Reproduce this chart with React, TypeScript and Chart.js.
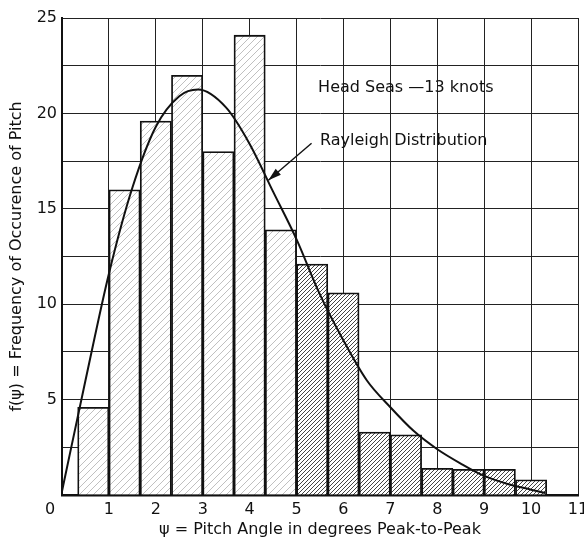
import React, { useEffect, useRef } from "react";
import { Chart, registerables } from "chart.js";

Chart.register(...registerables);

// Histogram bins (centre of each 2/3-degree class interval)
const binCenters = [0.6667, 1.3333, 2.0, 2.6667, 3.3333, 4.0, 4.6667, 5.3333, 6.0, 6.6667, 7.3333, 8.0, 8.6667, 9.3333, 10.0];
const frequencies = [4.6, 16.0, 19.6, 22.0, 18.0, 24.1, 13.9, 12.1, 10.6, 3.3, 3.15, 1.4, 1.35, 1.35, 0.8];

// Rayleigh distribution curve
const curveX = [0, 0.5, 1, 1.5, 2, 2.5, 2.9, 3.5, 4, 4.5, 5, 5.5, 6, 6.5, 7, 7.5, 8, 8.5, 9, 9.5, 10, 10.3];
const curveY = [0.2, 6.0, 11.6, 16.1, 19.3, 20.9, 21.25, 20.3, 18.4, 15.9, 13.4, 10.5, 8.1, 6.0, 4.6, 3.35, 2.4, 1.65, 1.0, 0.58, 0.28, 0.1];

const xTicks = [0, 1, 2, 3, 4, 5, 6, 7, 8, 9, 10, 11];
const yTickLabels = [5, 10, 15, 20, 25];

const headText = "Head Seas —13 knots";
const curveText = "Rayleigh Distribution";
const xTitle = "ψ = Pitch Angle in degrees Peak-to-Peak";
const yTitle = "f(ψ) = Frequency of Occurence of Pitch";

const FONT = "'DejaVu Sans', sans-serif";

function makeHatch(spacing: number, color: string, lw: number) {
  const c = document.createElement("canvas");
  c.width = spacing;
  c.height = spacing;
  const g = c.getContext("2d")!;
  g.fillStyle = "#fff";
  g.fillRect(0, 0, spacing, spacing);
  g.strokeStyle = color;
  g.lineWidth = lw;
  g.beginPath();
  g.moveTo(0, spacing);
  g.lineTo(spacing, 0);
  g.moveTo(-spacing / 2, spacing / 2);
  g.lineTo(spacing / 2, -spacing / 2);
  g.moveTo(spacing / 2, spacing * 1.5);
  g.lineTo(spacing * 1.5, spacing / 2);
  g.stroke();
  return g.createPattern(c, "repeat");
}

export default function App() {
  const ref = useRef<HTMLCanvasElement>(null);

  useEffect(() => {
    const canvas = ref.current!;
    const sparse = makeHatch(7, "#c0c0c0", 1);
    const dense = makeHatch(4, "#444", 1);

    const annotations = {
      id: "annotations",
      afterDraw(chart: any) {
        const { ctx, scales } = chart;
        const xs = scales.x;
        const ys = scales.y;
        ctx.save();
        ctx.fillStyle = "#111";
        ctx.font = `16px ${FONT}`;
        ctx.textBaseline = "alphabetic";
        ctx.textAlign = "left";
        ctx.fillText(headText, xs.getPixelForValue(5.46), ys.getPixelForValue(21.1));
        ctx.fillText(curveText, xs.getPixelForValue(5.5), ys.getPixelForValue(18.35));
        // x label "0" sits left of the y axis
        ctx.textAlign = "center";
        ctx.textBaseline = "middle";
        ctx.fillText(String(xTicks[0]), xs.getPixelForValue(0) - 12, chart.chartArea.bottom + 5 + 9.6);
        // arrow
        const x1 = xs.getPixelForValue(5.32), y1 = ys.getPixelForValue(18.44);
        const x2 = xs.getPixelForValue(4.4), y2 = ys.getPixelForValue(16.5);
        ctx.strokeStyle = "#111";
        ctx.lineWidth = 1.4;
        ctx.beginPath();
        ctx.moveTo(x1, y1);
        ctx.lineTo(x2, y2);
        ctx.stroke();
        const ang = Math.atan2(y2 - y1, x2 - x1);
        const L = 13, W = 4;
        ctx.beginPath();
        ctx.moveTo(x2, y2);
        ctx.lineTo(x2 - L * Math.cos(ang) + W * Math.sin(ang), y2 - L * Math.sin(ang) - W * Math.cos(ang));
        ctx.lineTo(x2 - L * Math.cos(ang) - W * Math.sin(ang), y2 - L * Math.sin(ang) + W * Math.cos(ang));
        ctx.closePath();
        ctx.fill();
        ctx.restore();
      },
    };

    const chart = new Chart(canvas, {
      type: "bar",
      data: {
        datasets: [
          {
            type: "line",
            data: curveX.map((x, i) => ({ x, y: curveY[i] })),
            borderColor: "#111",
            borderWidth: 2,
            pointRadius: 0,
            cubicInterpolationMode: "monotone",
            fill: false,
            order: 0,
          } as any,
          {
            type: "bar",
            data: binCenters.map((x, i) => ({ x, y: frequencies[i] })),
            backgroundColor: (c: any) => (c.dataIndex < 7 ? sparse : dense),
            borderColor: "#111",
            borderWidth: 1.8,
            barPercentage: 1,
            categoryPercentage: 1,
            order: 1,
          } as any,
        ],
      },
      options: {
        animation: false,
        responsive: false,
        events: [],
        layout: { padding: { left: 0, right: 6, top: 18, bottom: 0 } },
        plugins: { legend: { display: false }, tooltip: { enabled: false } },
        scales: {
          x: {
            type: "linear",
            min: 0,
            max: 11,
            offset: false,
            afterBuildTicks: (s: any) => {
              s.ticks = xTicks.map((v) => ({ value: v }));
            },
            ticks: {
              autoSkip: false,
              maxRotation: 0,
              padding: 5,
              color: "#111",
              font: { family: FONT, size: 16 },
              callback: (v: any) => (v === 0 ? "" : String(v)),
            },
            grid: { color: "#222", lineWidth: 1, drawTicks: false, offset: false },
            border: { color: "#111", width: 2.5 },
            title: {
              display: true,
              text: xTitle,
              color: "#111",
              padding: 0,
              font: { family: FONT, size: 16, lineHeight: 1.1 },
            },
            afterFit: (s: any) => {
              s.height = 44;
              s.paddingLeft = 0;
              s.paddingRight = 0;
            },
          },
          y: {
            type: "linear",
            min: 0,
            max: 25,
            ticks: {
              stepSize: 2.5,
              padding: 5,
              color: "#111",
              font: { family: FONT, size: 16 },
              callback: (v: any) => (yTickLabels.includes(v) ? String(v) : ""),
            },
            grid: { color: "#222", lineWidth: 1, drawTicks: false },
            border: { color: "#111", width: 2 },
            title: {
              display: true,
              text: yTitle,
              color: "#111",
              padding: { top: 7, bottom: 0 },
              font: { family: FONT, size: 16 },
            },
            afterFit: (s: any) => {
              s.width = 62;
            },
          },
        },
      } as any,
      plugins: [annotations],
    });
    return () => chart.destroy();
  }, []);

  return (
    <div style={{ position: "fixed", left: 0, top: 0, width: 584, height: 539, background: "#fff" }}>
      <canvas ref={ref} width={584} height={539} style={{ display: "block" }} />
    </div>
  );
}
